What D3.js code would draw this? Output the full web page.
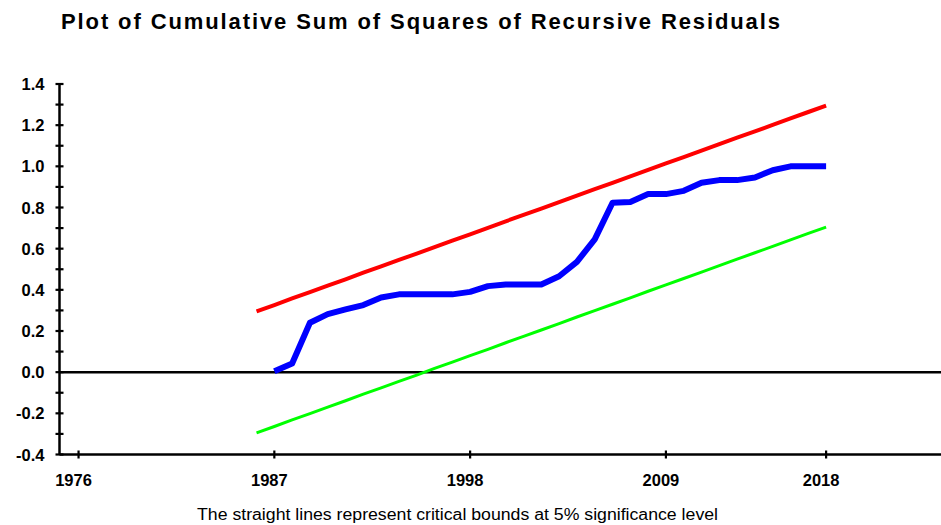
<!DOCTYPE html>
<html>
<head>
<meta charset="utf-8">
<script src="https://cdn.jsdelivr.net/npm/d3@7"></script>
<style>
  body { margin: 0; background: #fff; }
  text { font-family: "Liberation Sans", Arial, sans-serif; }
</style>
</head>
<body>
<script>
// values
var boundYears = d3.range(1986, 2019);
var upperBound = [0.295, 0.326, 0.358, 0.389, 0.420, 0.451, 0.483, 0.514, 0.545, 0.576,
                  0.608, 0.639, 0.670, 0.701, 0.733, 0.764, 0.795, 0.826, 0.858, 0.889,
                  0.920, 0.951, 0.983, 1.014, 1.045, 1.076, 1.108, 1.139, 1.170, 1.201,
                  1.233, 1.264, 1.295];
var lowerBound = [-0.295, -0.264, -0.232, -0.201, -0.170, -0.139, -0.107, -0.076, -0.045, -0.014,
                  0.018, 0.049, 0.080, 0.111, 0.143, 0.174, 0.205, 0.236, 0.268, 0.299,
                  0.330, 0.361, 0.393, 0.424, 0.455, 0.486, 0.518, 0.549, 0.580, 0.611,
                  0.643, 0.674, 0.705];
var cusumYears = d3.range(1987, 2019);
var cusumsq = [0.005, 0.042, 0.240, 0.282, 0.305, 0.326, 0.363, 0.378, 0.378, 0.378,
               0.378, 0.390, 0.418, 0.426, 0.426, 0.426, 0.466, 0.536, 0.645, 0.823,
               0.827, 0.865, 0.865, 0.881, 0.920, 0.933, 0.933, 0.946, 0.981, 1.000,
               1.000, 1.000];
var xTickYears = [1976, 1987, 1998, 2009, 2018];
var yTicks = [-0.4, -0.2, 0.0, 0.2, 0.4, 0.6, 0.8, 1.0, 1.2, 1.4];

var width = 941, height = 525;

var svg = d3.select('body').append('svg')
        .attr('width', width)
        .attr('height', height);

var x = d3.scaleLinear().domain([1974.93, 2025]).range([59.5, 950.7]);
var y = d3.scaleLinear().domain([-0.4, 1.4]).range([454.5, 84]);

// title
svg.append('text')
    .attr('x', 61).attr('y', 29)
    .attr('font-size', 22).attr('font-weight', 'bold')
    .attr('textLength', 719).attr('lengthAdjust', 'spacing')
    .text('Plot of Cumulative Sum of Squares of Recursive Residuals');

// zero line
svg.append('line')
    .attr('x1', x(1974.93)).attr('x2', width)
    .attr('y1', y(0)).attr('y2', y(0))
    .attr('stroke', '#000').attr('stroke-width', 2.5);

// y axis
var yAxis = svg.append('g').attr('transform', 'translate(' + x(1974.93) + ',0)');
yAxis.append('line')
    .attr('y1', y(1.4)).attr('y2', y(-0.4))
    .attr('stroke', '#000').attr('stroke-width', 2.5);
yAxis.selectAll('line.tick')
    .data(d3.range(-4, 15).map(function (d) { return d / 10; }))
    .enter().append('line')
        .attr('class', 'tick')
        .attr('x1', -4).attr('x2', 4)
        .attr('y1', function (d) { return y(d); })
        .attr('y2', function (d) { return y(d); })
        .attr('stroke', '#000').attr('stroke-width', 2.2);
yAxis.selectAll('text')
    .data(yTicks)
    .enter().append('text')
        .attr('x', -15)
        .attr('y', function (d) { return y(d) + 6; })
        .attr('text-anchor', 'end')
        .attr('font-size', 16.5).attr('font-weight', 'bold')
        .text(function (d) { return d3.format('.1f')(d).replace('−', '-'); });

// x axis
var xAxis = svg.append('g').attr('transform', 'translate(0,' + y(-0.4) + ')');
xAxis.append('line')
    .attr('x1', x(1974.93)).attr('x2', width)
    .attr('stroke', '#000').attr('stroke-width', 2.5);
xAxis.selectAll('line.tick')
    .data(xTickYears)
    .enter().append('line')
        .attr('class', 'tick')
        .attr('x1', function (d) { return x(d); })
        .attr('x2', function (d) { return x(d); })
        .attr('y1', -4).attr('y2', 4)
        .attr('stroke', '#000').attr('stroke-width', 2.2);
xAxis.selectAll('text')
    .data(xTickYears)
    .enter().append('text')
        .attr('x', function (d) { return x(d) - 5; })
        .attr('y', 31)
        .attr('text-anchor', 'middle')
        .attr('font-size', 16.5).attr('font-weight', 'bold')
        .text(function (d) { return d; });

// series
var line = d3.line()
        .x(function (d) { return x(d[0]); })
        .y(function (d) { return y(d[1]); });

svg.append('path')
    .datum(d3.zip(boundYears, upperBound))
    .attr('d', line)
    .attr('fill', 'none').attr('stroke', '#ff0000').attr('stroke-width', 4);

svg.append('path')
    .datum(d3.zip(boundYears, lowerBound))
    .attr('d', line)
    .attr('fill', 'none').attr('stroke', '#00ff00').attr('stroke-width', 3);

svg.append('path')
    .datum(d3.zip(cusumYears, cusumsq))
    .attr('d', line)
    .attr('fill', 'none').attr('stroke', '#0000ff').attr('stroke-width', 6)
    .attr('stroke-linejoin', 'round');

// caption
svg.append('text')
    .attr('x', 197).attr('y', 520)
    .attr('font-size', 16)
    .attr('textLength', 521).attr('lengthAdjust', 'spacingAndGlyphs')
    .text('The straight lines represent critical bounds at 5% significance level');
</script>
</body>
</html>
